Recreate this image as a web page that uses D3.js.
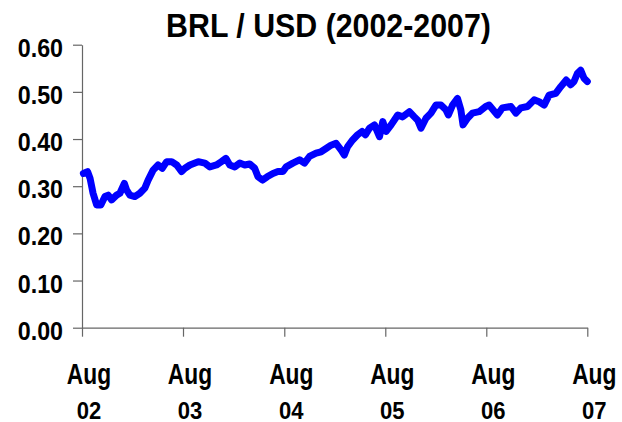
<!DOCTYPE html>
<html>
<head>
<meta charset="utf-8">
<script src="https://d3js.org/d3.v7.min.js"></script>
<style>
  body { margin: 0; background: #fff; }
  text { font-family: "Liberation Sans", Arial, sans-serif; fill: #000; font-weight: bold; }
</style>
</head>
<body>
<div id="chart"></div>
<script>
// values (approximate, BRL per USD)
var dates = ["2002-08-06","2002-08-21","2002-08-30","2002-09-10","2002-09-23","2002-10-08","2002-10-23","2002-11-04","2002-11-16","2002-12-04",
  "2002-12-16","2003-01-01","2003-01-09","2003-01-21","2003-02-08","2003-02-26","2003-03-16","2003-03-28","2003-04-15","2003-05-03",
  "2003-05-18","2003-06-03","2003-06-21","2003-07-09","2003-07-27","2003-08-08","2003-08-26","2003-09-25","2003-10-19","2003-11-06",
  "2003-11-30","2003-12-18","2004-01-03","2004-01-17","2004-02-04","2004-02-22","2004-03-11","2004-03-29","2004-04-16","2004-04-28",
  "2004-05-14","2004-05-31","2004-06-21","2004-07-09","2004-07-27","2004-08-08","2004-09-01","2004-09-25","2004-10-13","2004-10-31",
  "2004-11-24","2004-12-12","2004-12-30","2005-01-17","2005-02-04","2005-02-22","2005-03-06","2005-03-18","2005-04-05","2005-04-23",
  "2005-05-09","2005-05-21","2005-06-05","2005-06-23","2005-07-11","2005-07-23","2005-08-04","2005-08-22","2005-09-15","2005-10-03",
  "2005-10-27","2005-11-14","2005-11-26","2005-12-08","2005-12-26","2006-01-13","2006-01-31","2006-02-18","2006-03-08","2006-03-17",
  "2006-04-01","2006-04-19","2006-05-01","2006-05-09","2006-05-25","2006-06-12","2006-07-06","2006-07-30","2006-08-11","2006-09-10",
  "2006-09-28","2006-10-29","2006-11-16","2006-12-04","2006-12-28","2007-01-21","2007-02-08","2007-02-26","2007-03-16","2007-04-09",
  "2007-04-27","2007-05-17","2007-06-02","2007-06-14","2007-06-26","2007-07-08","2007-07-20","2007-08-01"];
var rates = [0.327,0.331,0.317,0.285,0.260,0.260,0.278,0.281,0.271,0.281,
  0.285,0.306,0.292,0.281,0.278,0.285,0.296,0.313,0.334,0.345,
  0.338,0.352,0.352,0.345,0.331,0.338,0.345,0.352,0.349,0.341,
  0.345,0.352,0.359,0.345,0.341,0.349,0.345,0.347,0.338,0.320,
  0.313,0.320,0.327,0.331,0.331,0.341,0.349,0.356,0.349,0.363,
  0.370,0.373,0.380,0.387,0.391,0.377,0.366,0.384,0.398,0.409,
  0.416,0.409,0.423,0.430,0.405,0.437,0.416,0.430,0.451,0.447,
  0.458,0.447,0.440,0.423,0.444,0.455,0.472,0.472,0.462,0.451,
  0.472,0.486,0.462,0.430,0.444,0.455,0.458,0.469,0.472,0.451,
  0.466,0.469,0.455,0.466,0.469,0.483,0.479,0.472,0.493,0.497,
  0.511,0.525,0.515,0.522,0.539,0.546,0.529,0.522];

var xTicks = ["2002-08-01","2003-08-01","2004-08-01","2005-08-01","2006-08-01","2007-08-01"];
var xTickMonth = ["Aug","Aug","Aug","Aug","Aug","Aug"];
var xTickYear = ["02","03","04","05","06","07"];
var yTicks = [0, 0.1, 0.2, 0.3, 0.4, 0.5, 0.6];
var title = "BRL / USD (2002-2007)";

var W = 622, H = 422;
var parse = d3.timeParse("%Y-%m-%d");
var data = dates.map(function (d, i) { return { date: parse(d), value: rates[i] }; });

var svg = d3.select("#chart").append("svg")
    .attr("width", W)
    .attr("height", H);

var x = d3.scaleTime()
    .domain([parse(xTicks[0]), parse(xTicks[xTicks.length - 1])])
    .range([82, 587.3]);

var y = d3.scaleLinear()
    .domain([0, 0.6])
    .range([327.7, 44.7]);

// title
svg.append("g")
    .attr("transform", "translate(328.5,0)")
  .append("text")
    .attr("y", 36.7)
    .attr("text-anchor", "middle")
    .attr("transform", "scale(0.92,1)")
    .style("font-size", "33px")
    .text(title);

// y axis
var yAxis = svg.append("g")
    .attr("transform", "translate(82,0)")
    .call(d3.axisLeft(y).tickValues(yTicks).tickSize(9).tickSizeOuter(0)
        .tickFormat(d3.format(".2f")));
yAxis.selectAll("path, line").attr("stroke", "#666").attr("stroke-width", 1.2);
yAxis.selectAll("text")
    .attr("x", -20.4)
    .attr("dy", "0.46em")
    .attr("transform", "scale(0.93,1)")
    .attr("fill", "#000")
    .style("font-size", "25px")
    .style("font-family", "'Liberation Sans', Arial, sans-serif")
    .style("font-weight", "bold");

// x axis
var xAxis = svg.append("g")
    .attr("transform", "translate(0," + y(0) + ")")
    .call(d3.axisBottom(x).tickValues(xTicks.map(parse)).tickSize(9).tickSizeOuter(0)
        .tickFormat(""));
xAxis.selectAll("path, line").attr("stroke", "#666").attr("stroke-width", 1.2);

var labels = svg.append("g");
xTicks.forEach(function (t, i) {
    var g = labels.append("g")
        .attr("transform", "translate(" + (x(parse(t)) + 7) + ",0)");
    g.append("text")
        .attr("y", 384.3)
        .attr("text-anchor", "middle")
        .attr("transform", "scale(0.76,1)")
        .style("font-size", "30px")
        .text(xTickMonth[i]);
    g.append("text")
        .attr("y", 419.5)
        .attr("text-anchor", "middle")
        .attr("transform", "scale(0.9,1)")
        .style("font-size", "24.5px")
        .text(xTickYear[i]);
});

// the rate line
var line = d3.line()
    .x(function (d) { return x(d.date); })
    .y(function (d) { return y(d.value); });

svg.append("path")
    .datum(data)
    .attr("fill", "none")
    .attr("stroke", "#0000ff")
    .attr("stroke-width", 7)
    .attr("stroke-linejoin", "round")
    .attr("stroke-linecap", "round")
    .attr("d", line);
</script>
</body>
</html>
